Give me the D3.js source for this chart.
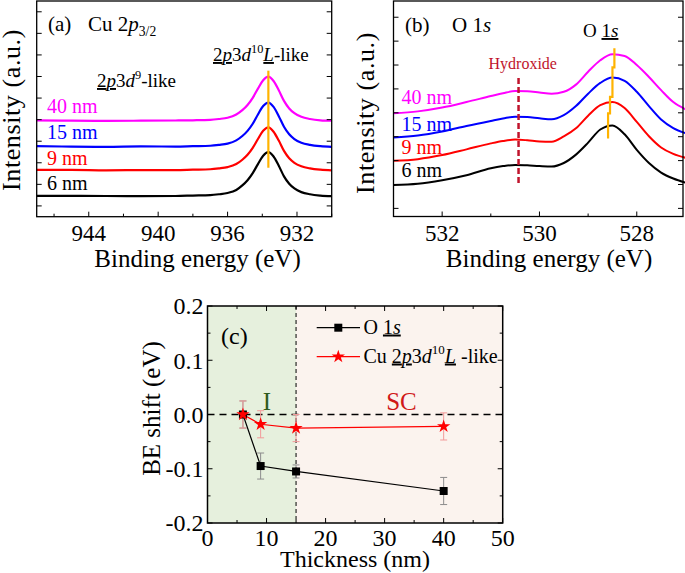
<!DOCTYPE html>
<html><head><meta charset="utf-8">
<script src="https://cdn.jsdelivr.net/npm/d3@7"></script>
<style>body{margin:0;background:#fff} svg{display:block} text{font-family:"Liberation Serif","Times New Roman",serif}</style>
</head><body><svg id="fig" width="685" height="573"></svg>
<script>
// ================= DATA =================
// Panel (a) Cu 2p3/2 spectra (binding energy eV, intensity a.u.)
const energyA = [947, 945, 943, 941, 939, 938, 937, 936.5, 936, 935.5, 935.15, 934.85, 934.55, 934.25, 933.95, 933.65, 933.35, 933.05, 932.75, 932.45, 932.15, 931.75, 931.25, 930.65, 930];
const cu6nm  = [1.47,1.47,1.46,1.45,1.46,1.48,1.50,1.54,1.60,1.74,1.95,2.19,2.52,2.94,3.33,3.49,3.29,2.86,2.37,2.03,1.81,1.64,1.54,1.48,1.45];
const cu9nm  = [2.67,2.67,2.65,2.66,2.66,2.68,2.70,2.74,2.80,2.94,3.14,3.37,3.69,4.10,4.48,4.64,4.44,4.03,3.55,3.21,3.00,2.84,2.74,2.68,2.65];
const cu15nm = [3.77,3.75,3.74,3.76,3.75,3.77,3.79,3.83,3.89,4.04,4.24,4.48,4.81,5.24,5.63,5.79,5.59,5.16,4.67,4.32,4.10,3.93,3.83,3.77,3.74];
const cu40nm = [4.97,4.95,4.94,4.95,4.96,4.97,4.99,5.03,5.09,5.24,5.44,5.68,6.01,6.44,6.83,6.99,6.79,6.36,5.87,5.52,5.30,5.13,5.03,4.97,4.95];
const peakLineA = [[933.65, 2.77], [933.65, 7.27]];

// Panel (b) O 1s spectra
const energyB = [533, 532.5, 532, 531.5, 531, 530.75, 530.5, 530.25, 530, 529.75, 529.5, 529.25, 529, 528.75, 528.5, 528.25, 528, 527.75, 527.5, 527.25, 527];
const o6nm  = [1.98,2.03,2.18,2.39,2.68,2.77,2.82,2.80,2.77,2.75,2.90,3.25,3.75,4.30,4.47,4.10,3.45,2.90,2.50,2.25,2.08];
const o9nm  = [2.99,3.06,3.23,3.47,3.72,3.82,3.88,3.85,3.80,3.79,4.01,4.35,4.88,5.32,5.45,5.20,4.62,4.02,3.55,3.28,3.12];
const o15nm = [3.97,4.05,4.22,4.45,4.66,4.76,4.84,4.82,4.77,4.73,4.90,5.28,5.80,6.25,6.48,6.34,5.88,5.28,4.72,4.36,4.15];
const o40nm = [4.98,5.06,5.22,5.45,5.70,5.82,5.91,5.90,5.85,5.80,5.88,6.18,6.72,7.20,7.45,7.38,7.00,6.50,5.95,5.45,5.15];
const hydroxideLine = [[530.43, 2.06], [530.43, 6.50]];
const peakLineB = [[528.46,7.70],[528.46,6.90],[528.50,6.90],[528.50,5.67],[528.55,5.67],[528.55,4.98],[528.59,4.98],[528.59,3.93]];

const thicknessLabels = ["40 nm", "15 nm", "9 nm", "6 nm"];
const seriesColors = ["#FF00FF", "#0000FF", "#FF0000", "#000000"];

// Panel (c) BE shift vs thickness
const thickness = [6, 9, 15, 40];
const o1sShift = [0.000, -0.095, -0.105, -0.141];
const o1sErr   = [0.025, 0.024, 0.012, 0.025];
const cuShift  = [0.000, -0.018, -0.025, -0.022];
const cuErr    = [0.025, 0.025, 0.025, 0.025];
const regionBoundary = 15;

// Tick values
const tickA = [944, 940, 936, 932], minorTickA = [946, 942, 938, 934, 930];
const yTickA = [1,2,3,4,5,6,7,8,9,10];
const tickB = [532, 530, 528], minorTickB = [531, 529];
const yTickB = [1,2,3,4,5,6,7,8,9];
const tickCx = [0, 10, 20, 30, 40, 50], minorTickCx = [5, 15, 25, 35, 45];
const tickCy = [-0.2, -0.1, 0.0, 0.1, 0.2], minorTickCy = [-0.15, -0.05, 0.05, 0.15];

// ================= DRAW =================
const svg = d3.select("#fig");

function rich(g, x, y, fs, parts, fill) {
  const t = g.append("text").attr("x", x).attr("y", y).attr("font-size", fs).attr("fill", fill || "#000");
  let shift = 0;
  parts.forEach(p => {
    const s = t.append("tspan").text(p.t);
    const target = p.sup ? -0.42 * fs : p.sub ? 0.25 * fs : 0;
    if (target !== shift) { s.attr("dy", target - shift); shift = target; }
    if (p.sup || p.sub) s.attr("font-size", fs * 0.65);
    if (p.it) s.attr("font-style", "italic");
    if (p.ul) s.style("text-decoration", "underline");
  });
  return t;
}

function frameTicks(g, x, y, xt, xmt, yt, opt) {
  const [x0, x1] = x.range(), [y0, y1] = y.range();
  const L = opt.major, l = opt.minor;
  const tk = g.append("g").attr("stroke", "#000").attr("stroke-width", opt.tw || 1);
  xt.forEach(v => {
    tk.append("line").attr("x1", x(v)).attr("x2", x(v)).attr("y1", y0).attr("y2", y0 - L);
    if (opt.top) tk.append("line").attr("x1", x(v)).attr("x2", x(v)).attr("y1", y1).attr("y2", y1 + L);
  });
  xmt.forEach(v => {
    tk.append("line").attr("x1", x(v)).attr("x2", x(v)).attr("y1", y0).attr("y2", y0 - l);
    if (opt.top) tk.append("line").attr("x1", x(v)).attr("x2", x(v)).attr("y1", y1).attr("y2", y1 + l);
  });
  yt.forEach(v => {
    tk.append("line").attr("x1", x0).attr("x2", x0 + L).attr("y1", y(v)).attr("y2", y(v));
    tk.append("line").attr("x1", x1).attr("x2", x1 - L).attr("y1", y(v)).attr("y2", y(v));
  });
  (opt.ymt || []).forEach(v => {
    tk.append("line").attr("x1", x0).attr("x2", x0 + l).attr("y1", y(v)).attr("y2", y(v));
    tk.append("line").attr("x1", x1).attr("x2", x1 - l).attr("y1", y(v)).attr("y2", y(v));
  });
  g.append("rect").attr("x", x0).attr("y", y1).attr("width", x1 - x0).attr("height", y0 - y1)
    .attr("fill", "none").attr("stroke", "#000").attr("stroke-width", opt.fw || 1.3);
}

// ---------- Panel (a) ----------
{
  const g = svg.append("g");
  const x = d3.scaleLinear().domain([947, 930]).range([36.7, 331.7]);
  const y = d3.scaleLinear().domain([0.5, 10.5]).range([216.7, 1]);
  const line = d3.line().x(d => x(d[0])).y(d => y(d[1])).curve(d3.curveMonotoneX);
  [cu40nm, cu15nm, cu9nm, cu6nm].forEach((s, i) => {
    g.append("path").datum(energyA.map((e, k) => [e, s[k]])).attr("d", line)
      .attr("fill", "none").attr("stroke", seriesColors[i]).attr("stroke-width", 2.2);
  });
  g.append("path").datum(peakLineA).attr("d", d3.line().x(d => x(d[0])).y(d => y(d[1])))
    .attr("stroke", "#FFB300").attr("stroke-width", 2.2).attr("fill", "none");
  frameTicks(g, x, y, tickA, minorTickA, yTickA, {major: 5, minor: 3});
  tickA.forEach(v => g.append("text").attr("x", x(v)).attr("y", 240.7).attr("text-anchor", "middle").attr("font-size", 23).text(v));
  g.append("text").attr("x", 197.5).attr("y", 266.5).attr("text-anchor", "middle").attr("font-size", 25).text("Binding energy (eV)");
  g.append("text").attr("transform", "translate(20,110) rotate(-90)").attr("text-anchor", "middle")
    .attr("font-size", 26).attr("letter-spacing", 0.6).text("Intensity (a.u.)");
  const ly = [113.3, 138.5, 165, 190];
  thicknessLabels.forEach((t, i) => g.append("text").attr("x", 47).attr("y", ly[i]).attr("font-size", 20).attr("fill", seriesColors[i]).text(t));
  rich(g, 48, 31, 21, [{t: "(a)"}]);
  rich(g, 88, 31, 21, [{t: "Cu 2"}, {t: "p", it: 1}, {t: "3/2", sub: 1}]);
  rich(g, 213, 61, 19, [{t: "2", ul: 1}, {t: "p", it: 1, ul: 1}, {t: "3"}, {t: "d", it: 1}, {t: "10", sup: 1}, {t: "L", it: 1, ul: 1}, {t: "-like"}]);
  rich(g, 97, 87, 19, [{t: "2", ul: 1}, {t: "p", it: 1, ul: 1}, {t: "3"}, {t: "d", it: 1}, {t: "9", sup: 1}, {t: "-like"}]);
}

// ---------- Panel (b) ----------
{
  const g = svg.append("g");
  const x = d3.scaleLinear().domain([533, 527.05]).range([393.5, 683]);
  const y = d3.scaleLinear().domain([0.66, 9.68]).range([216.5, 1]);
  const line = d3.line().x(d => x(d[0])).y(d => y(d[1])).curve(d3.curveMonotoneX);
  [o40nm, o15nm, o9nm, o6nm].forEach((s, i) => {
    g.append("path").datum(energyB.map((e, k) => [e, s[k]])).attr("d", line)
      .attr("fill", "none").attr("stroke", seriesColors[i]).attr("stroke-width", 2);
  });
  const pl = d3.line().x(d => x(d[0])).y(d => y(d[1]));
  g.append("path").datum(hydroxideLine).attr("d", pl).attr("stroke", "#C0142C").attr("stroke-width", 2.5)
    .attr("stroke-dasharray", "6,3").attr("fill", "none");
  g.append("path").datum(peakLineB).attr("d", pl).attr("stroke", "#FFB300").attr("stroke-width", 2.2).attr("fill", "none");
  frameTicks(g, x, y, tickB, minorTickB, yTickB, {major: 5, minor: 3});
  tickB.forEach(v => g.append("text").attr("x", x(v)).attr("y", 240.5).attr("text-anchor", "middle").attr("font-size", 23).text(v));
  g.append("text").attr("x", 549).attr("y", 266.5).attr("text-anchor", "middle").attr("font-size", 25).text("Binding energy (eV)");
  g.append("text").attr("transform", "translate(373.5,113) rotate(-90)").attr("text-anchor", "middle")
    .attr("font-size", 26).attr("letter-spacing", 0.6).text("Intensity (a.u.)");
  const ly = [104.3, 130.7, 154, 177];
  thicknessLabels.forEach((t, i) => g.append("text").attr("x", 401.5).attr("y", ly[i]).attr("font-size", 20).attr("fill", seriesColors[i]).text(t));
  rich(g, 405, 32, 21, [{t: "(b)"}]);
  rich(g, 452, 32, 21, [{t: "O 1"}, {t: "s", it: 1}]);
  rich(g, 583, 37, 19, [{t: "O "}, {t: "1", ul: 1}, {t: "s", it: 1, ul: 1}]);
  g.append("text").attr("x", 488.5).attr("y", 68.5).attr("font-size", 16).attr("fill", "#C0142C").text("Hydroxide");
}

// ---------- Panel (c) ----------
{
  const g = svg.append("g");
  const x = d3.scaleLinear().domain([0, 50]).range([207.5, 502.7]);
  const y = d3.scaleLinear().domain([-0.2, 0.2]).range([523, 306]);
  g.append("rect").attr("x", x(0)).attr("y", y(0.2)).attr("width", x(regionBoundary) - x(0)).attr("height", y(-0.2) - y(0.2)).attr("fill", "#E6F0DD");
  g.append("rect").attr("x", x(regionBoundary)).attr("y", y(0.2)).attr("width", x(50) - x(regionBoundary)).attr("height", y(-0.2) - y(0.2)).attr("fill", "#FBF3EE");
  g.append("line").attr("x1", x(regionBoundary)).attr("x2", x(regionBoundary)).attr("y1", y(0.2)).attr("y2", y(-0.2))
    .attr("stroke", "#000").attr("stroke-width", 1).attr("stroke-dasharray", "4,3");
  g.append("line").attr("x1", x(0)).attr("x2", x(50)).attr("y1", y(0)).attr("y2", y(0))
    .attr("stroke", "#000").attr("stroke-width", 1.6).attr("stroke-dasharray", "7,5");
  // error bars
  const eb = (vals, errs, color) => thickness.forEach((t, i) => {
    const cx = x(t), a = y(vals[i] + errs[i]), b = y(vals[i] - errs[i]);
    g.append("line").attr("x1", cx).attr("x2", cx).attr("y1", a).attr("y2", b).attr("stroke", color).attr("stroke-width", 1);
    [a, b].forEach(yy => g.append("line").attr("x1", cx - 3.5).attr("x2", cx + 3.5).attr("y1", yy).attr("y2", yy).attr("stroke", color).attr("stroke-width", 1));
  });
  eb(o1sShift, o1sErr, "#8C8C8C");
  eb(cuShift, cuErr, "#F29A9A");
  const ln = d3.line().x(d => x(d[0])).y(d => y(d[1]));
  g.append("path").datum(thickness.map((t, i) => [t, o1sShift[i]])).attr("d", ln).attr("fill", "none").attr("stroke", "#000").attr("stroke-width", 1.2);
  g.append("path").datum(thickness.map((t, i) => [t, cuShift[i]])).attr("d", ln).attr("fill", "none").attr("stroke", "#FF0000").attr("stroke-width", 1.2);
  const sq = d3.symbol().type(d3.symbolSquare).size(64);
  const st = d3.symbol().type(d3.symbolStar).size(55);
  thickness.forEach((t, i) => g.append("path").attr("d", sq).attr("transform", `translate(${x(t)},${y(o1sShift[i])})`).attr("fill", "#000"));
  thickness.forEach((t, i) => g.append("path").attr("d", st).attr("transform", `translate(${x(t)},${y(cuShift[i])})`).attr("fill", "#FF0000"));
  frameTicks(g, x, y, tickCx, minorTickCx, tickCy, {major: 5, minor: 3, top: true, ymt: minorTickCy, fw: 1.5});
  tickCx.forEach(v => g.append("text").attr("x", x(v)).attr("y", 546).attr("text-anchor", "middle").attr("font-size", 24).text(v));
  tickCy.forEach(v => g.append("text").attr("x", 203.5).attr("y", y(v) + 8.3).attr("text-anchor", "end").attr("font-size", 24).text(v.toFixed(1)));
  g.append("text").attr("x", 355).attr("y", 567).attr("text-anchor", "middle").attr("font-size", 24).text("Thickness (nm)");
  g.append("text").attr("transform", "translate(160,408.5) rotate(-90)").attr("text-anchor", "middle").attr("font-size", 25).text("BE shift (eV)");
  rich(g, 221, 344, 24, [{t: "(c)"}]);
  g.append("text").attr("x", 267).attr("y", 410).attr("text-anchor", "middle").attr("font-size", 25).attr("fill", "#2E5A1C").text("I");
  g.append("text").attr("x", 401.5).attr("y", 410).attr("text-anchor", "middle").attr("font-size", 25).attr("fill", "#D01818").text("SC");
  // legend
  const lg = g.append("g");
  lg.append("line").attr("x1", 316.7).attr("x2", 360).attr("y1", 327.7).attr("y2", 327.7).attr("stroke", "#000").attr("stroke-width", 1.2);
  lg.append("path").attr("d", sq).attr("transform", "translate(338.3,327.7)").attr("fill", "#000");
  lg.append("line").attr("x1", 316.7).attr("x2", 360).attr("y1", 356.7).attr("y2", 356.7).attr("stroke", "#FF0000").attr("stroke-width", 1.2);
  lg.append("path").attr("d", st).attr("transform", "translate(338.3,356.7)").attr("fill", "#FF0000");
  rich(lg, 363.5, 333.5, 20, [{t: "O "}, {t: "1", ul: 1}, {t: "s", it: 1, ul: 1}]);
  rich(lg, 363.5, 362.5, 20, [{t: "Cu "}, {t: "2", ul: 1}, {t: "p", it: 1, ul: 1}, {t: "3"}, {t: "d", it: 1}, {t: "10", sup: 1}, {t: "L", it: 1, ul: 1}, {t: " -like"}]);
}
</script></body></html>
